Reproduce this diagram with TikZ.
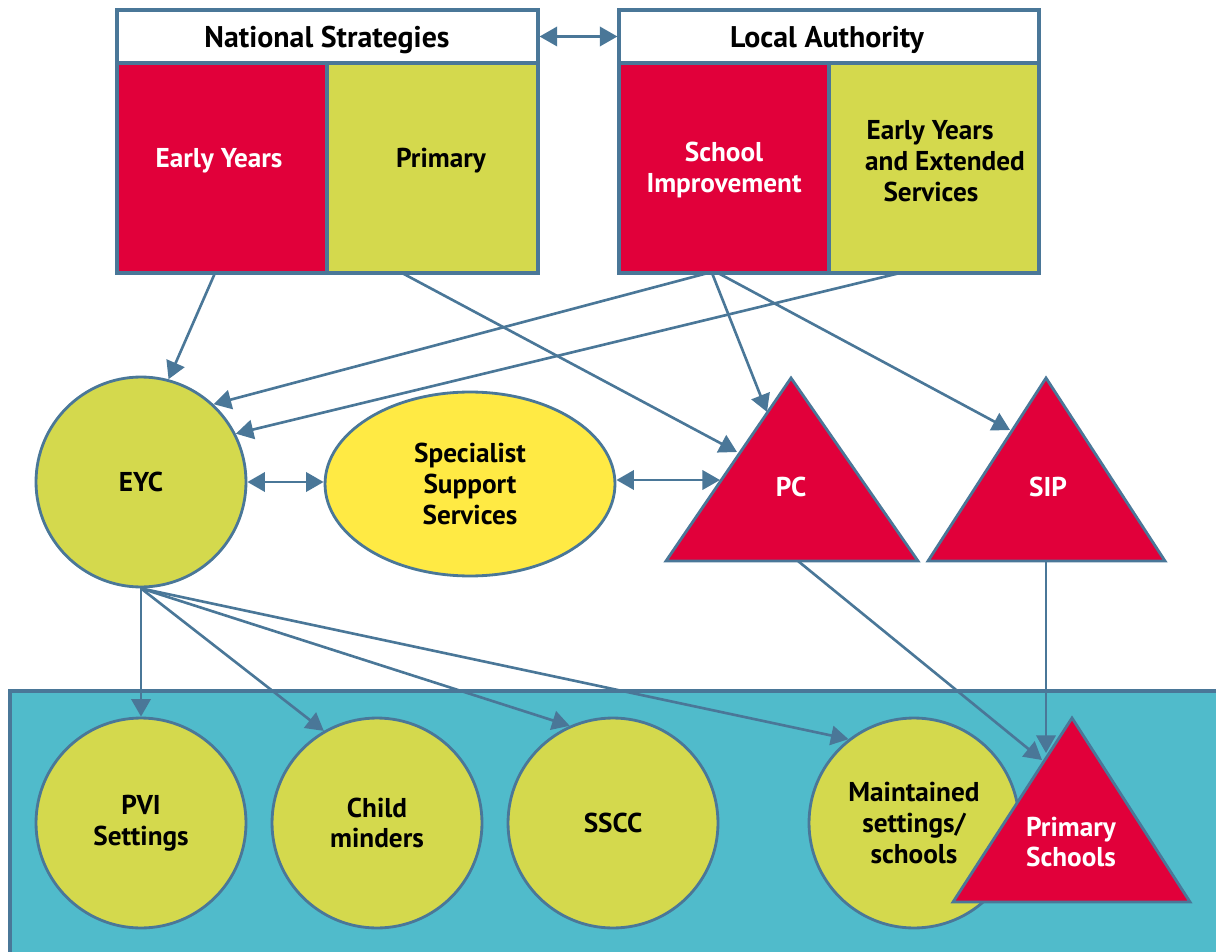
\documentclass[tikz,border=0pt]{standalone}
\usepackage{fontspec}
\setmainfont{PT Sans}
\usetikzlibrary{arrows.meta,shapes.geometric,fit,calc}
\definecolor{cred}{HTML}{E1003A}
\definecolor{cygreen}{HTML}{D4D94D}
\definecolor{cyellow}{HTML}{FFEA44}
\definecolor{ccyan}{HTML}{50BBCB}
\definecolor{cline}{HTML}{4A7798}
\tikzset{
  box/.style={draw=cline, line width=1.8pt, inner sep=0pt},
  circ/.style={ellipse, draw=cline, line width=1.6pt, fill=cygreen, inner sep=0pt, font=\bfseries\fontsize{15.5}{17.5}\selectfont, align=center},
  tri/.style={draw=cline, line width=1.6pt, fill=cred, line join=miter},
  wtext/.style={text=white, font=\bfseries\fontsize{15.5}{17.5}\selectfont, align=center, inner sep=0pt},
  btext/.style={text=black, font=\bfseries\fontsize{15.5}{17.5}\selectfont, align=center, inner sep=0pt},
  htext/.style={text=black, font=\bfseries\fontsize{17}{19}\selectfont, inner sep=0pt},
  conn/.style={draw=cline, line width=1.5pt, -{Triangle[length=10pt,width=11pt]}},
  dconn/.style={draw=cline, line width=1.5pt, {Triangle[length=10pt,width=11pt]}-{Triangle[length=10pt,width=11pt]}},
}
\begin{document}
\begin{tikzpicture}[x=0.02cm, y=-0.02cm]
\useasboundingbox (0,0) rectangle (1216,952);
% bottom band
\path[fill=ccyan, draw=cline, line width=1.8pt] (10,691) rectangle (1230,970);
% top boxes
\node[box, fill=white, fit={(117,10)(538,63)}] (nsh) {};
\node[box, fill=cred, fit={(117,63)(327,273)}] (nsey) {};
\node[box, fill=cygreen, fit={(327,63)(538,273)}] (nspr) {};
\node[htext] (nsht) at (327,40) {National Strategies};
\node[wtext] (nseyt) at (219,161) {Early Years};
\node[btext] (nsprt) at (441,161) {Primary};
\node[box, fill=white, fit={(619,10)(1039,63)}] (lah) {};
\node[box, fill=cred, fit={(619,63)(829,273)}] (lasi) {};
\node[box, fill=cygreen, fit={(829,63)(1039,273)}] (laey) {};
\node[htext] (laht) at (827,40) {Local Authority};
\node[wtext] (lasit) at (724,170) {School\\Improvement};
\node[btext] (laeyt) at (945,161) {Early Years\rule{17pt}{0pt}\\and Extended\\Services\rule{16pt}{0pt}};
% middle row
\node[circ, minimum width=4.2cm, minimum height=4.2cm] (eyc) at (141,482) {EYC};
\node[circ, fill=cyellow, minimum width=5.8cm, minimum height=3.68cm] (spec) at (470,484) {Specialist\\Support\\Services};
\coordinate (pcA) at (791,378); \coordinate (pcL) at (666,561); \coordinate (pcR) at (918,561);
\draw[tri] (pcA) -- (pcL) -- (pcR) -- cycle;
\node[wtext] (pc) at (791,487) {PC};
\coordinate (sipA) at (1046,378); \coordinate (sipL) at (928,561); \coordinate (sipR) at (1165,561);
\draw[tri] (sipA) -- (sipL) -- (sipR) -- cycle;
\node[wtext] (sip) at (1048,487) {SIP};
% bottom row
\node[circ, minimum width=4.2cm, minimum height=4.2cm] (pvi) at (141,823) {PVI\\Settings};
\node[circ, minimum width=4.2cm, minimum height=4.2cm] (child) at (377,823) {Child\\minders};
\node[circ, minimum width=4.2cm, minimum height=4.2cm] (sscc) at (613,823) {SSCC};
\node[circ, minimum width=4.2cm, minimum height=4.2cm] (maint) at (914,823) {Maintained\\settings/\\schools};
\coordinate (psA) at (1072,718); \coordinate (psL) at (953,902); \coordinate (psR) at (1190,902);
\draw[tri] (psA) -- (psL) -- (psR) -- cycle;
\node[wtext] (ps) at (1071,842) {Primary\\Schools};
% connector end points
\coordinate (nsA) at (215,273);
\coordinate (nsB) at (402,273);
\coordinate (laA) at (708,273);
\coordinate (laB) at (712,273);
\coordinate (laC) at (718,273);
\coordinate (laD) at (900,273);
\coordinate (pcin1) at (737,452);
\coordinate (pcin2) at (767,412);
\coordinate (pcin3) at (720,480);
\coordinate (sipin) at (1010,430);
\coordinate (pcout) at (798,561);
\coordinate (sipout) at (1046,561);
\coordinate (psin1) at (1042,760);
\coordinate (psin2) at (1046,753);
% connectors
\draw[dconn] (nsh.east) -- (lah.west);
\draw[conn] (nsA) -- (eyc.75);
\draw[conn] (nsB) -- (pcin1);
\draw[conn] (laA) -- (eyc.47);
\draw[conn] (laD) -- (eyc.27);
\draw[conn] (laB) -- (pcin2);
\draw[conn] (laC) -- (sipin);
\draw[dconn] (eyc.east) -- (spec.west |- eyc.east);
\draw[dconn] (spec.east |- pcin3) -- (pcin3);
\draw[conn] (eyc.south) -- (pvi.north);
\draw[conn] (eyc.south) -- (child.120);
\draw[conn] (eyc.south) -- (sscc.114);
\draw[conn] (eyc.south) -- (maint.128);
\draw[conn] (pcout) -- (psin1);
\draw[conn] (sipout) -- (psin2);
\end{tikzpicture}
\end{document}
